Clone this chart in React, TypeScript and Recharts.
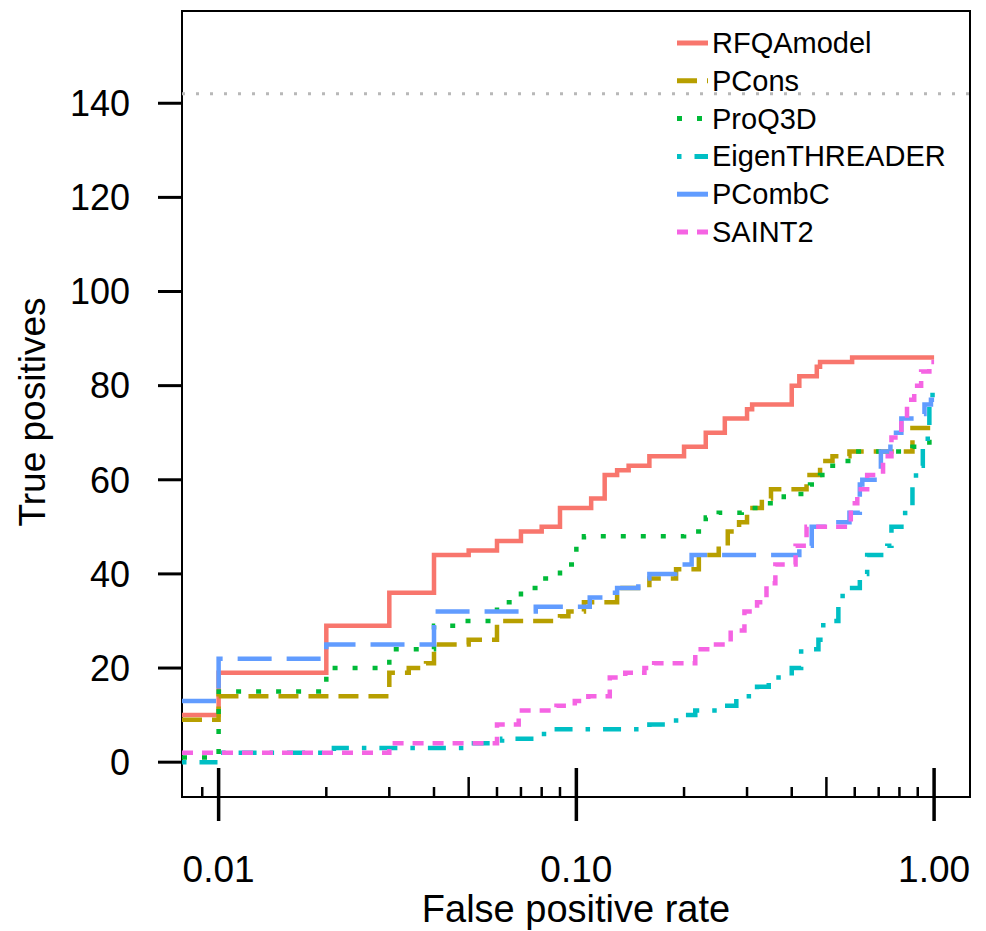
import {
  LineChart,
  Line,
  XAxis,
  YAxis,
  ReferenceLine,
  ReferenceArea,
  Legend,
  Label,
} from "recharts";

// [false positive rate, true positives]
const rfqaModel = [
  [0.0079, 10], [0.01, 19], [0.02, 29], [0.03, 36], [0.04, 44], [0.05, 45],
  [0.06, 47], [0.07, 49], [0.08, 50], [0.09, 54], [0.11, 56], [0.12, 61],
  [0.13, 62], [0.14, 63], [0.16, 65], [0.2, 67], [0.23, 70], [0.26, 73],
  [0.3, 75], [0.31, 76], [0.4, 80], [0.42, 82], [0.47, 84], [0.48, 85],
  [0.59, 86], [1.0, 86],
];

const pCons = [
  [0.0079, 9], [0.01, 14], [0.03, 19], [0.034, 20], [0.038, 21], [0.04, 25],
  [0.05, 26], [0.06, 30], [0.09, 31], [0.095, 32], [0.105, 34], [0.13, 37],
  [0.16, 39], [0.19, 41], [0.22, 44], [0.25, 46], [0.265, 49], [0.285, 51],
  [0.3, 54], [0.33, 56], [0.35, 58], [0.44, 61], [0.48, 64], [0.52, 65],
  [0.58, 66], [0.87, 71], [1.0, 71],
];

const proQ3D = [
  [0.0079, 1], [0.01, 15], [0.02, 20], [0.03, 24], [0.04, 29], [0.047, 30],
  [0.06, 34], [0.07, 37], [0.08, 39], [0.09, 42], [0.1, 46], [0.105, 48],
  [0.2, 49], [0.22, 50], [0.23, 52], [0.25, 53], [0.29, 54], [0.34, 55],
  [0.38, 57], [0.45, 59], [0.48, 61], [0.51, 63], [0.56, 64], [0.6, 66],
  [0.87, 67], [0.97, 68], [1.0, 68],
];

const eigenThreader = [
  [0.0079, 0], [0.01, 2], [0.021, 3], [0.05, 4], [0.062, 5], [0.077, 6],
  [0.083, 7], [0.16, 8], [0.19, 10], [0.215, 11], [0.255, 12], [0.28, 14],
  [0.32, 16], [0.345, 18], [0.4, 20], [0.425, 24], [0.475, 26], [0.49, 30],
  [0.54, 33], [0.555, 37], [0.62, 40], [0.65, 44], [0.74, 46], [0.76, 50],
  [0.83, 54], [0.87, 59], [0.89, 63], [0.93, 67], [0.96, 71], [0.97, 76],
  [0.99, 79], [1.0, 79],
];

const pCombC = [
  [0.0079, 13], [0.01, 22], [0.02, 25], [0.04, 32], [0.077, 33], [0.109, 35],
  [0.119, 36], [0.13, 37], [0.149, 39], [0.16, 40], [0.189, 42], [0.21, 44],
  [0.42, 46], [0.455, 50], [0.5, 51], [0.58, 53], [0.62, 59], [0.63, 60],
  [0.71, 66], [0.755, 70], [0.81, 73], [0.91, 74], [0.94, 76], [0.98, 77],
  [1.0, 77],
];

const saint2 = [
  [0.0079, 2], [0.03, 4], [0.06, 8], [0.069, 11], [0.088, 12], [0.099, 13],
  [0.108, 14], [0.124, 18], [0.137, 19], [0.155, 20], [0.165, 21], [0.215, 24],
  [0.24, 25], [0.27, 28], [0.295, 32], [0.32, 34], [0.34, 38], [0.36, 42],
  [0.41, 46], [0.44, 50], [0.585, 55], [0.61, 58], [0.65, 61], [0.72, 65],
  [0.76, 69], [0.81, 73], [0.84, 77], [0.88, 80], [0.92, 83], [0.97, 85],
  [1.0, 85],
];

const yTicks = [0, 20, 40, 60, 80, 100, 120, 140];
const majorTicks = [0.01, 0.1, 1];
const minorTicks = [
  0.009, 0.02, 0.03, 0.04, 0.05, 0.06, 0.07, 0.08, 0.09,
  0.2, 0.3, 0.4, 0.5, 0.6, 0.7, 0.8, 0.9,
];
const totalPositives = 142;

const FONT = '"Liberation Sans", Arial, Helvetica, sans-serif';

const series = [
  { name: "RFQAmodel", data: rfqaModel, color: "#F8766D", dash: undefined },
  { name: "PCons", data: pCons, color: "#B79F00", dash: "20 10" },
  { name: "ProQ3D", data: proQ3D, color: "#00BA38", dash: "5 15" },
  { name: "EigenTHREADER", data: eigenThreader, color: "#00BFC4", dash: "4.5 13 18 13" },
  { name: "PCombC", data: pCombC, color: "#619CFF", dash: "34 15" },
  { name: "SAINT2", data: saint2, color: "#F564E3", dash: "11 9" },
];

const toPoints = (pairs: number[][]) =>
  pairs.map(([fpr, tp]) => ({ fpr, tp }));

const X_DOMAIN = [0.0079, 1.26];
const Y_DOMAIN = [-7.4, 159.6];

function XTick(props: any) {
  const { x, y, payload } = props;
  const v = payload.value;
  const isMajor = majorTicks.some((m) => Math.abs(m - v) < 1e-9);
  if (isMajor) {
    return (
      <g>
        <line x1={x} x2={x} y1={y - 29} y2={y + 24} stroke="#000" strokeWidth={3.5} />
        <text
          x={x}
          y={y + 85}
          textAnchor="middle"
          fontSize={37}
          fontFamily={FONT}
          fill="#000"
        >
          {v.toFixed(2)}
        </text>
      </g>
    );
  }
  const isFive = Math.abs(v - 0.05) < 1e-9 || Math.abs(v - 0.5) < 1e-9;
  return (
    <line
      x1={x}
      x2={x}
      y1={y - (isFive ? 20 : 10)}
      y2={y}
      stroke="#000"
      strokeWidth={2.5}
    />
  );
}

function LegendBox() {
  return (
    <svg width={300} height={250} style={{ overflow: "visible" }}>
      {series.map((s, i) => {
        const cy = 27 + i * 37.8;
        return (
          <g key={s.name}>
            <line
              x1={9}
              x2={40}
              y1={cy}
              y2={cy}
              stroke={s.color}
              strokeWidth={5}
              strokeDasharray={s.dash}
            />
            <text
              x={44}
              y={cy}
              dominantBaseline="central"
              fontSize={29}
              fontFamily={FONT}
              fill="#000"
            >
              {s.name}
            </text>
          </g>
        );
      })}
    </svg>
  );
}

export default function App() {
  return (
    <div style={{ width: 970, height: 923, background: "#fff" }}>
      <LineChart
        width={970}
        height={923}
        margin={{ top: 3, right: 8, left: 0, bottom: 0 }}
      >
        <XAxis
          dataKey="fpr"
          type="number"
          scale="log"
          domain={X_DOMAIN}
          allowDataOverflow
          ticks={[...majorTicks, ...minorTicks].sort((a, b) => a - b)}
          interval={0}
          tick={<XTick />}
          tickLine={false}
          tickSize={0}
          tickMargin={0}
          axisLine={false}
          height={134}
        >
          <Label
            content={(props: any) => {
              const vb = props.viewBox || { x: 174, width: 788 };
              return (
                <text
                  x={vb.x + vb.width / 2}
                  y={914}
                  textAnchor="middle"
                  fontSize={38}
                  fontFamily={FONT}
                  fill="#000"
                >
                  False positive rate
                </text>
              );
            }}
          />
        </XAxis>
        <YAxis
          type="number"
          domain={Y_DOMAIN}
          allowDataOverflow
          ticks={yTicks}
          interval={0}
          width={174}
          axisLine={false}
          tickLine={{ stroke: "#000", strokeWidth: 3 }}
          tickSize={24}
          tickMargin={28}
          tick={{ fontSize: 36, fill: "#000", fontFamily: FONT }}
        >
          <Label
            content={() => (
              <text
                x={37}
                y={404}
                transform="rotate(-90, 37, 404)"
                textAnchor="middle"
                fontSize={37}
                fontFamily={FONT}
                fill="#000"
              >
                True positives
              </text>
            )}
          />
        </YAxis>

        <ReferenceLine
          y={totalPositives}
          stroke="#b8b8b8"
          strokeWidth={3}
          strokeDasharray="3 11"
        />

        {series.map((s) => (
          <Line
            key={s.name}
            name={s.name}
            data={toPoints(s.data)}
            dataKey="tp"
            type="stepAfter"
            stroke={s.color}
            strokeWidth={4.5}
            strokeDasharray={s.dash}
            dot={false}
            activeDot={false}
            isAnimationActive={false}
          />
        ))}

        <ReferenceArea
          x1={X_DOMAIN[0]}
          x2={X_DOMAIN[1]}
          y1={Y_DOMAIN[0]}
          y2={Y_DOMAIN[1]}
          fill="none"
          stroke="#000"
          strokeWidth={2}
          ifOverflow="visible"
        />

        <Legend
          layout="horizontal"
          verticalAlign="middle"
          content={() => <LegendBox />}
          wrapperStyle={{ position: "absolute", left: 660, top: 8, width: 300 }}
        />
      </LineChart>
    </div>
  );
}
